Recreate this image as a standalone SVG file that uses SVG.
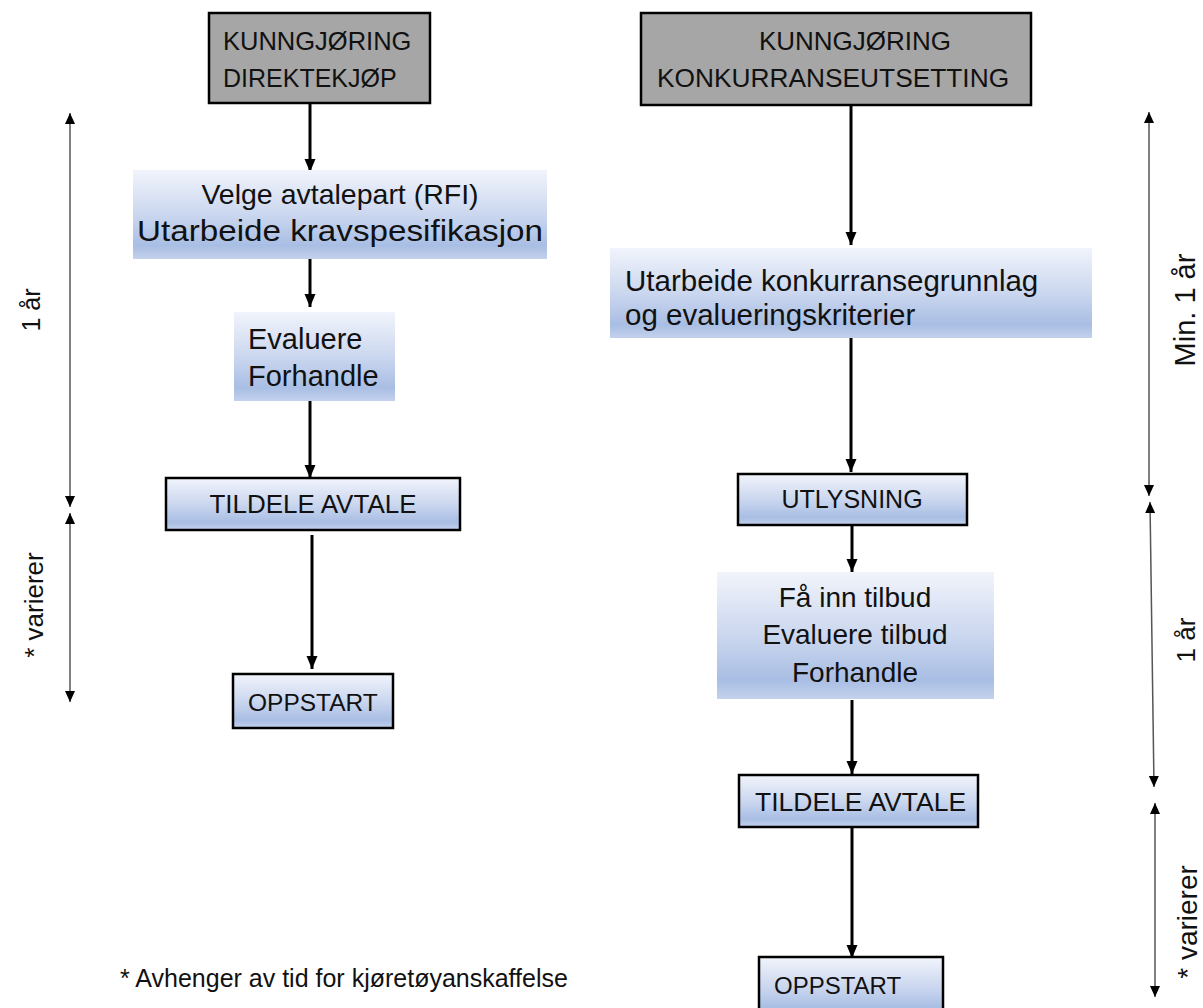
<svg xmlns="http://www.w3.org/2000/svg" width="1203" height="1008" viewBox="0 0 1203 1008">
<defs>
<linearGradient id="blue" x1="0" y1="0" x2="0" y2="1">
<stop offset="0" stop-color="#f1f4fb"/>
<stop offset="0.5" stop-color="#cbd7ef"/>
<stop offset="0.85" stop-color="#a9bee4"/>
<stop offset="1" stop-color="#c3d1ec"/>
</linearGradient>
<marker id="ah" markerUnits="userSpaceOnUse" markerWidth="14" markerHeight="14" viewBox="0 0 14 14" refX="13" refY="7" orient="auto">
<path d="M0,1.5 L13,7 L0,12.5 Z" fill="#000"/>
</marker>
<marker id="dh" markerUnits="userSpaceOnUse" markerWidth="12" markerHeight="12" viewBox="0 0 12 12" refX="11" refY="6" orient="auto-start-reverse">
<path d="M0,1 L11,6 L0,11 Z" fill="#000"/>
</marker>
</defs>
<style>
text{font-family:"Liberation Sans",Arial,sans-serif;fill:#111;}
.gray{fill:#a6a6a6;stroke:#000;stroke-width:2.5;}
.grad{fill:url(#blue);}
.box{fill:url(#blue);stroke:#000;stroke-width:2.5;}
.flow{stroke:#000;stroke-width:3;fill:none;marker-end:url(#ah);}
.dim{stroke:#555;stroke-width:1.5;fill:none;marker-start:url(#dh);marker-end:url(#dh);}
.c{text-anchor:middle;}
</style>

<g id="connectors">
<line class="flow" x1="310" y1="103" x2="310" y2="172"/>
<line class="flow" x1="310" y1="259" x2="310" y2="307"/>
<line class="flow" x1="310" y1="393" x2="310" y2="478"/>
<line class="flow" x1="312" y1="535" x2="312" y2="669"/>
<line class="flow" x1="851" y1="105" x2="851" y2="245"/>
<line class="flow" x1="851" y1="338" x2="851" y2="472"/>
<line class="flow" x1="852" y1="525" x2="852" y2="572"/>
<line class="flow" x1="852" y1="700" x2="852" y2="774"/>
<line class="flow" x1="852" y1="827" x2="852" y2="958"/>
</g>

<g id="dimensions">
<line class="dim" x1="70" y1="113" x2="70" y2="507"/>
<line class="dim" x1="70" y1="513" x2="70" y2="702"/>
<line class="dim" x1="1149" y1="112" x2="1149" y2="496"/>
<line class="dim" x1="1150" y1="502" x2="1154" y2="787"/>
<line class="dim" x1="1155" y1="803" x2="1155" y2="997"/>
<text transform="translate(40,310) rotate(-90)" class="c" font-size="25">1 år</text>
<text transform="translate(43,605) rotate(-90)" class="c" font-size="26">* varierer</text>
<text transform="translate(1195,310) rotate(-90)" class="c" font-size="29">Min. 1 år</text>
<text transform="translate(1195,640) rotate(-90)" class="c" font-size="26">1 år</text>
<text transform="translate(1197,922) rotate(-90)" class="c" font-size="28">* varierer</text>
</g>

<g id="n-kunngjoring-direkte">
<rect class="gray" x="209" y="13" width="221" height="90"/>
<text x="223" y="50" font-size="25.5">KUNNGJØRING</text>
<text x="223" y="87" font-size="25">DIREKTEKJØP</text>
</g>

<g id="n-velge">
<rect class="grad" x="133" y="170" width="414" height="89"/>
<text x="340" y="204" class="c" font-size="28.5">Velge avtalepart (RFI)</text>
<text x="340" y="241" class="c" font-size="30" textLength="406" lengthAdjust="spacingAndGlyphs">Utarbeide kravspesifikasjon</text>
</g>

<g id="n-evaluere">
<rect class="grad" x="234" y="312" width="161" height="89"/>
<text x="248" y="349" font-size="29">Evaluere</text>
<text x="248" y="386" font-size="29">Forhandle</text>
</g>

<g id="n-tildele-left">
<rect class="box" x="166" y="478" width="294" height="52"/>
<text x="313" y="513" class="c" font-size="26">TILDELE AVTALE</text>
</g>

<g id="n-oppstart-left">
<rect class="box" x="233" y="674" width="160" height="54"/>
<text x="248" y="711" font-size="24.5">OPPSTART</text>
</g>

<g id="n-kunngjoring-konkurranse">
<rect class="gray" x="641" y="13" width="390" height="92"/>
<text x="855" y="50" class="c" font-size="26">KUNNGJØRING</text>
<text x="657" y="87" font-size="26.3">KONKURRANSEUTSETTING</text>
</g>

<g id="n-utarbeide">
<rect class="grad" x="610" y="248" width="482" height="90"/>
<text x="625" y="291" font-size="29.5">Utarbeide konkurransegrunnlag</text>
<text x="625" y="325" font-size="29.5">og evalueringskriterier</text>
</g>

<g id="n-utlysning">
<rect class="box" x="738" y="474" width="229" height="51" stroke-width="3"/>
<text x="852" y="508" class="c" font-size="25">UTLYSNING</text>
</g>

<g id="n-tilbud">
<rect class="grad" x="717" y="572" width="277" height="127"/>
<text x="855" y="607" class="c" font-size="28">Få inn tilbud</text>
<text x="855" y="644" class="c" font-size="28">Evaluere tilbud</text>
<text x="855" y="682" class="c" font-size="28">Forhandle</text>
</g>

<g id="n-tildele-right">
<rect class="box" x="739" y="775" width="239" height="52"/>
<text x="755" y="811" font-size="26.5">TILDELE AVTALE</text>
</g>

<g id="n-oppstart-right">
<rect class="box" x="759" y="957" width="184" height="60"/>
<text x="774" y="994" font-size="24">OPPSTART</text>
</g>

<g id="footnote">
<text x="120" y="987" font-size="25">* Avhenger av tid for kjøretøyanskaffelse</text>
</g>
</svg>
